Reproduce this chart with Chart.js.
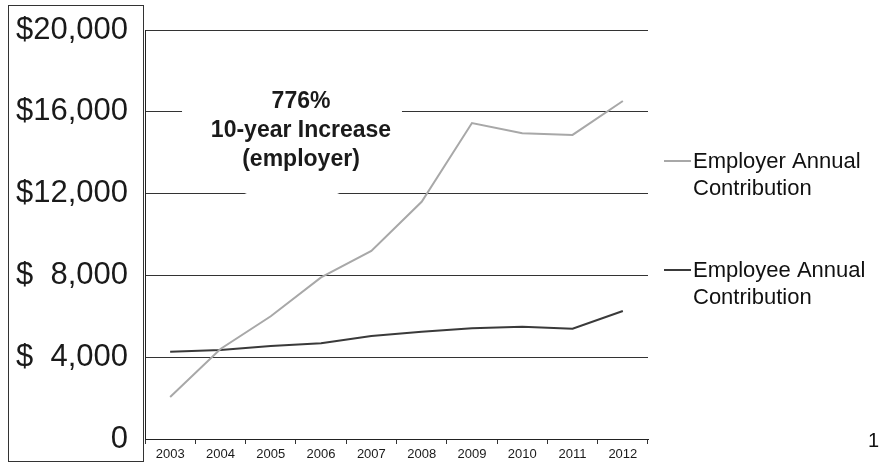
<!DOCTYPE html>
<html>
<head>
<meta charset="utf-8">
<script src="https://cdn.jsdelivr.net/npm/chart.js@4.4.1/dist/chart.umd.min.js"></script>
<style>
  html, body { margin: 0; padding: 0; background: #fff; }
  #wrap { width: 881px; height: 464px; position: relative; }
</style>
</head>
<body>
<div id="wrap"><canvas id="chart"></canvas></div>
<script>
// values
const years = ['2003', '2004', '2005', '2006', '2007', '2008', '2009', '2010', '2011', '2012'];
const employer = [2050, 4400, 6000, 7900, 9200, 11600, 15450, 14950, 14870, 16530];
const employee = [4270, 4350, 4550, 4680, 5040, 5250, 5410, 5490, 5390, 6260];
const yTicks = [0, 4000, 8000, 12000, 16000, 20000];
const noteLines = ['776%', '10-year Increase', '(employer)'];
const pageNumber = '1';

const FONT = "'Liberation Sans', Arial, sans-serif";

// white cloud behind the note, box round the y labels, legend and note text
const decorations = {
  id: 'decorations',
  beforeDatasetsDraw(chart) {
    const ctx = chart.ctx;
    const area = chart.chartArea;
    ctx.save();
    ctx.beginPath();
    ctx.rect(area.left + 2, area.top + 2, area.right - area.left - 4, area.bottom - area.top - 4);
    ctx.clip();
    ctx.fillStyle = '#fff';
    ctx.beginPath();
    ctx.ellipse(292, 112, 110, 90, 0, 0, Math.PI * 2);
    ctx.fill();
    ctx.restore();
  },
  afterDraw(chart) {
    const ctx = chart.ctx;
    ctx.save();

    // frame round the y axis labels
    ctx.strokeStyle = '#333';
    ctx.lineWidth = 1;
    ctx.strokeRect(8.5, 5.5, 135, 456);

    // note
    ctx.fillStyle = '#1a1a1a';
    ctx.font = 'bold 23px ' + FONT;
    ctx.textAlign = 'center';
    ctx.textBaseline = 'middle';
    noteLines.forEach((t, i) => ctx.fillText(t, 301, 102 + i * 29));

    // legend on the right
    const legendY = [161, 270];
    ctx.font = '22px ' + FONT;
    ctx.textAlign = 'left';
    chart.data.datasets.forEach((ds, i) => {
      const y = legendY[i];
      ctx.strokeStyle = ds.borderColor;
      ctx.lineWidth = 2;
      ctx.beginPath();
      ctx.moveTo(664, y);
      ctx.lineTo(691, y);
      ctx.stroke();
      ctx.fillStyle = '#111';
      const words = ds.label.split(' ');
      ctx.fillText(words.slice(0, 2).join(' '), 693, y + 1);
      ctx.fillText(words.slice(2).join(' '), 693, y + 28);
    });

    // page number
    ctx.font = '20px ' + FONT;
    ctx.textAlign = 'right';
    ctx.fillText(pageNumber, 879, 441);
    ctx.restore();
  }
};

new Chart(document.getElementById('chart'), {
  type: 'line',
  data: {
    labels: years,
    datasets: [
      {
        label: 'Employer Annual Contribution',
        data: employer,
        borderColor: '#a8a8a8',
        borderWidth: 2,
        pointRadius: 0,
        tension: 0
      },
      {
        label: 'Employee Annual Contribution',
        data: employee,
        borderColor: '#3a3a3a',
        borderWidth: 2,
        pointRadius: 0,
        tension: 0
      }
    ]
  },
  options: {
    responsive: true,
    maintainAspectRatio: false,
    animation: false,
    layout: { padding: { top: 30, right: 233, bottom: 0, left: 0 } },
    plugins: {
      legend: { display: false },
      tooltip: { enabled: false }
    },
    scales: {
      x: {
        offset: true,
        grid: {
          offset: true,
          drawOnChartArea: false,
          drawTicks: true,
          tickLength: 5,
          color: '#333'
        },
        border: { display: true, color: '#222', width: 1 },
        ticks: {
          color: '#1a1a1a',
          font: { family: FONT, size: 13 },
          padding: 3,
          maxRotation: 0
        },
        afterFit(scale) { scale.height = 25; }
      },
      y: {
        min: 0,
        max: 20000,
        afterBuildTicks(scale) { scale.ticks = yTicks.map(v => ({ value: v })); },
        grid: { color: '#333', lineWidth: 1, drawTicks: false },
        border: { display: true, color: '#222', width: 1 },
        ticks: {
          color: '#1a1a1a',
          font: { family: FONT, size: 31 },
          padding: 17,
          callback(v) {
            if (v === 0) return '0';
            const s = v.toLocaleString('en-US');
            return v < 10000 ? '$  ' + s : '$' + s;
          }
        },
        afterFit(scale) {
          scale.width = 145;
          // labels may overhang the plot, the frame has room for them
          scale.paddingTop = 0;
          scale.paddingBottom = 0;
        }
      }
    }
  },
  plugins: [decorations]
});
</script>
</body>
</html>
